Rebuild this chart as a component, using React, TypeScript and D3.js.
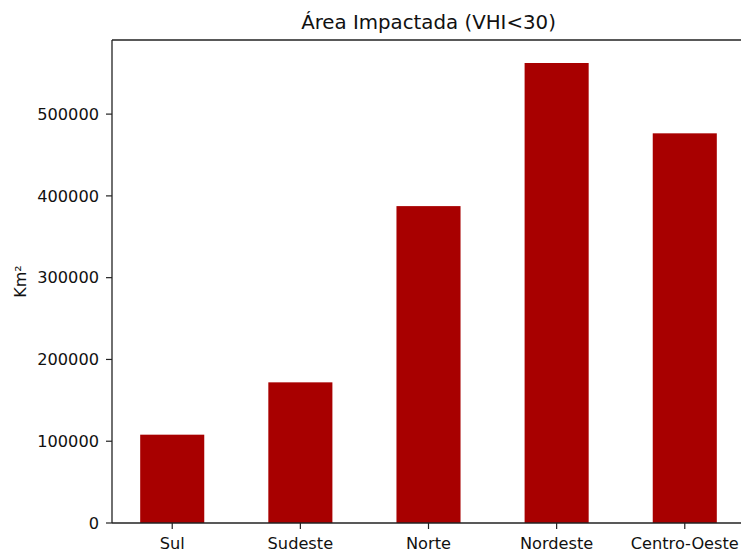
import React from "react";
import * as d3 from "d3";

const categories = ["Sul", "Sudeste", "Norte", "Nordeste", "Centro-Oeste"];
const values = [108000, 172000, 387500, 562500, 476500];
const yTicks = [0, 100000, 200000, 300000, 400000, 500000];
const title = "Área Impactada (VHI<30)";
const yLabel = "Km²";

const W = 741;
const H = 553;
const left = 112;
const right = 745;
const top = 40;
const bottom = 523;
const font = "DejaVu Sans, sans-serif";

export default function App() {
  const x = d3.scaleLinear().domain([-0.47, categories.length - 1 + 0.47]).range([left, right]);
  const y = d3.scaleLinear().domain([0, d3.max(values)! * 1.05]).range([bottom, top]);
  const bw = x(0.5) - x(0);
  return (
    <svg width={W} height={H} style={{ position: "absolute", left: 0, top: 0, background: "#fff" }}>
      {values.map((v, i) => (
        <rect key={i} x={x(i) - bw / 2} y={y(v)} width={bw} height={y(0) - y(v)} fill="#a80000" />
      ))}
      <g stroke="#222" strokeWidth={1.3} fill="none">
        <line x1={left} x2={left} y1={top} y2={bottom} />
        <line x1={left} x2={right} y1={bottom} y2={bottom} />
        <line x1={left} x2={right} y1={top} y2={top} />
        <line x1={right} x2={right} y1={top} y2={bottom} />
      </g>
      {yTicks.map((t) => (
        <g key={t}>
          <line x1={left - 6} x2={left} y1={y(t)} y2={y(t)} stroke="#222" strokeWidth={1.2} />
          <text x={left - 13} y={y(t)} dy="0.36em" textAnchor="end" fontFamily={font} fontSize={16.2} fill="#111">
            {t}
          </text>
        </g>
      ))}
      {categories.map((c, i) => (
        <g key={c}>
          <line x1={x(i)} x2={x(i)} y1={bottom} y2={bottom + 6} stroke="#222" strokeWidth={1.2} />
          <text x={x(i)} y={549} textAnchor="middle" fontFamily={font} fontSize={16.2} fill="#111">
            {c}
          </text>
        </g>
      ))}
      <text
        transform={`translate(26,${(top + bottom) / 2}) rotate(-90)`}
        textAnchor="middle"
        fontFamily={font}
        fontSize={16}
        fill="#111"
      >
        {yLabel}
      </text>
      <text x={(left + right) / 2} y={29} textAnchor="middle" fontFamily={font} fontSize={19.8} fill="#111">
        {title}
      </text>
    </svg>
  );
}
